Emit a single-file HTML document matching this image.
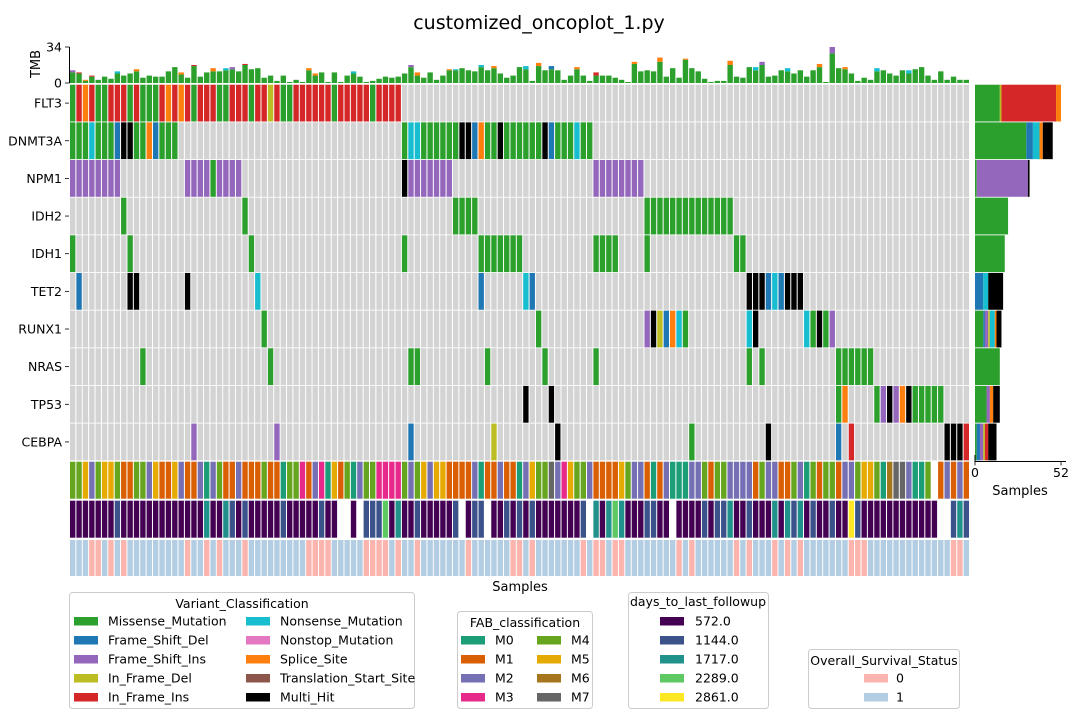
<!DOCTYPE html>
<html><head><meta charset="utf-8">
<style>
html,body{margin:0;padding:0;background:#fff;}
svg{display:block;font-family:"DejaVu Sans","Liberation Sans",sans-serif;}
text{fill:#000;}
</style></head>
<body>
<svg id="chart" width="1080" height="720" viewBox="0 0 1080 720" xmlns="http://www.w3.org/2000/svg">
<text x="539" y="29" font-size="19" text-anchor="middle">customized_oncoplot_1.py</text>
<g id="tmb"></g>
<g id="grid"></g>
<g id="side"></g>
<g id="annot"></g>
<g id="axes"></g>
<text x="520" y="591" font-size="13" text-anchor="middle">Samples</text>
<text x="1020" y="495" font-size="13" text-anchor="middle">Samples</text>
<text transform="translate(40,64) rotate(-90)" font-size="13" text-anchor="middle">TMB</text>

<g>
<rect x="69.5" y="592.5" width="345" height="116" rx="3" fill="#fff" stroke="#ccc"/>
<text x="242" y="608" font-size="12.5" text-anchor="middle">Variant_Classification</text>
</g>
<g id="legV"></g>
<g>
<rect x="457.5" y="611.5" width="135" height="97" rx="3" fill="#fff" stroke="#ccc"/>
<text x="525" y="627" font-size="12.5" text-anchor="middle">FAB_classification</text>
</g>
<g id="legF"></g>
<g>
<rect x="628.5" y="592.5" width="140" height="116" rx="3" fill="#fff" stroke="#ccc"/>
<text x="698" y="606" font-size="12.5" text-anchor="middle">days_to_last_followup</text>
</g>
<g id="legD"></g>
<g>
<rect x="808.5" y="649.5" width="151" height="59" rx="3" fill="#fff" stroke="#ccc"/>
<text x="884" y="665" font-size="12.5" text-anchor="middle">Overall_Survival_Status</text>
</g>
<g id="legS"></g>
</svg>
<script>
const genes = ["FLT3","DNMT3A","NPM1","IDH2","IDH1","TET2","RUNX1","NRAS","TP53","CEBPA"];
const mutFLT3 = [[0,"MRPRMMRRRMRMMMRPRPRMRRRMMRRRMRRDRMMRRRRRRMRRRRRMRRRR"]];
const mutDNMT3A = [[0,"MMMNMMMFXXMMPFMMM"],[52,"MNNMMMMMMXXFPMMXMMMMMMXFMMMNMM"]];
const mutNPM1 = [[0,"IIIIIIII"],[18,"IIIIMIIII"],[52,"XIIIIIII"],[82,"IIIIIIII"]];
const mutIDH2 = [[8,"M"],[27,"M"],[60,"MMMM"],[90,"MMMMMMMMMMMMMM"]];
const mutIDH1 = [[0,"M"],[9,"M"],[28,"M"],[52,"M"],[64,"MMMMMMM"],[82,"MMMM"],[90,"M"],[104,"MM"]];
const mutTET2 = [[1,"F"],[9,"XX"],[18,"X"],[29,"N"],[64,"F"],[71,"NF"],[106,"XXXFNFXXX"]];
const mutRUNX1 = [[30,"M"],[73,"M"],[90,"IXDFPNM"],[106,"NX"],[115,"NMXMI"]];
const mutNRAS = [[11,"M"],[31,"M"],[53,"MM"],[65,"M"],[74,"M"],[82,"M"],[106,"M"],[108,"M"],[120,"MMMMMM"]];
const mutTP53 = [[71,"X"],[75,"X"],[120,"MP"],[126,"MIXIPXMMMMM"]];
const mutCEBPA = [[19,"I"],[32,"I"],[53,"F"],[66,"D"],[76,"X"],[97,"M"],[109,"X"],[120,"F"],[122,"R"],[137,"XXXR"]];
const mutations = [mutFLT3,mutDNMT3A,mutNPM1,mutIDH2,mutIDH1,mutTET2,mutRUNX1,mutNRAS,mutTP53,mutCEBPA];
const variantCodes = ["M","F","I","D","R","N","S","P","T","X"];
const variantNames = ["Missense_Mutation","Frame_Shift_Del","Frame_Shift_Ins","In_Frame_Del","In_Frame_Ins","Nonsense_Mutation","Nonstop_Mutation","Splice_Site","Translation_Start_Site","Multi_Hit"];
const variantColors = ["#2ca02c","#1f77b4","#9467bd","#bcbd22","#d62728","#17becf","#e377c2","#ff7f0e","#8c564b","#000000"];
const tmbTotal = [12,10,3,7,3,6,4,11,7,9, 13,5,7,6,6,11,15,10,5,17, 6,10,14,11,14,15,11,18,13,14, 5,7,2,7,1,3,1,14,9,10,
1,10,1,7,11,6,1,2,4,6, 5,6,9,17,10,5,10,3,7,13, 13,14,12,11,17,12,16,9,5,7, 15,16,2,19,12,16,12,3,7,15,
7,2,10,7,7,5,3,1,20,11, 12,11,24,6,14,5,23,14,11,4, 1,2,2,21,6,5,15,15,20,6, 7,12,14,9,12,6,12,18,1,34,
14,15,9,2,5,3,14,12,9,7, 12,12,13,15,7,3,11,3,6,3, 3];
const tmbCaps = [[0,"I",2],[1,"R",1],[2,"P",1],[3,"R",1],[7,"N",2],[10,"P",2],[17,"P",2],[19,"R",1],[22,"P",3],[24,"N",2],[25,"I",2],[27,"R",1],[37,"P",2],[38,"P",2],[44,"N",2],[53,"I",2],[54,"P",3],[59,"P",1],[60,"N",1],[64,"N",2],[66,"P",2],[71,"N",3],[73,"P",3],[75,"F",3],[79,"P",2],[82,"R",3],[88,"P",2],[92,"P",4],[96,"P",1],[103,"P",4],[107,"N",3],[108,"I",3],[112,"N",3],[117,"P",3],[119,"I",6],[121,"P",2],[126,"N",3],[131,"N",3]];
const tmbTicks = [0,34];
const fab = [4,4,5,2,4,5,5,4,1,1, 4,4,2,5,1,1,5,2,1,1, 2,0,2,4,1,1,2,1,1,1, 4,1,1,0,4,4,3,1,2,3, 0,5,1,4,0,2,4,
4,3,3,3,3,4,2,4,5,2, 5,5,1,1,1,1,2,0,1,1, 2,1,1,0,2,5,4,4,7,2, 3,5,4,4,2,1,1,1,1,5, 4,2,2,1,0,1,2,
0,0,0,2,2,4,1,4,4,2, 2,2,2,1,4,2,2,1,1,4, 2,0,4,1,4,4,1,2,2,4, 5,5,4,0,6,7,7,2,0,0, 4,-1,1,2,1,2,1];
const fabNames = ["M0","M1","M2","M3","M4","M5","M6","M7"];
const fabColors = ["#1b9e77","#d95f02","#7570b3","#e7298a","#66a61e","#e6ab02","#a6761d","#666666"];
const days = [0,0,0,0,0,0,0,1,0,0, 0,0,0,0,0,0,0,0,0,0, 0,2,0,0,2,1,0,1,0,0, 0,0,0,1,0,0,0,0,0,1, 0,0,-1,-1,0,-1,1,
1,1,3,0,2,0,0,1,0,0, 0,0,0,1,-1,0,1,1,-1,0, 0,1,0,1,0,1,0,0,0,0, 0,0,0,1,-1,2,0,2,3,2, 0,0,0,1,1,0,0,
-1,0,0,0,0,1,0,1,1,2, 0,0,1,0,0,0,2,0,2,1, 2,0,1,0,0,1,0,0,4,1, 0,0,0,0,0,0,0,0,0,0, 0,0,-1,-1,1,2,1];
const dayNames = ["572.0","1144.0","1717.0","2289.0","2861.0"];
const dayColors = ["#440154","#3b528b","#21918c","#5ec962","#fde725"];
const survival = [1,1,1,0,0,1,0,1,0,1, 1,1,1,1,1,1,1,1,0,1, 1,0,1,0,1,1,1,0,1,1, 1,1,1,1,1,1,1,0,0,0,
0,1,1,1,1,1,0,0,0,0, 1,0,1,1,0,1,1,1,1,1, 1,1,0,1,1,1,1,1,1,0, 0,1,0,1,1,1,1,1,1,1,
0,1,0,0,1,0,0,1,1,1, 1,1,1,1,1,0,1,0,1,1, 1,1,1,1,0,1,0,1,1,1, 0,1,0,1,0,1,1,1,1,1,
1,1,0,0,0,1,1,1,1,1, 1,1,1,1,1,1,1,1,0,0, 1];
const survNames = ["0","1"];
const survColors = ["#fbb4ae","#b3cde3"];

const NS = "http://www.w3.org/2000/svg";
const N = tmbTotal.length;
const X0 = 70, X1 = 970, PITCH = (X1 - X0) / N, CW = PITCH - 1;
const xCol = i => X0 + i * PITCH;
const ROW0 = 84.7, RPITCH = 37.65, RH = 36.8;
const yRow = r => ROW0 + r * RPITCH;
const TMB_Y0 = 83, TMB_Y1 = 47, TMB_MAX = 34;
const yTmb = v => TMB_Y0 - v * (TMB_Y0 - TMB_Y1) / TMB_MAX;
const SIDE_X0 = 975, SIDE_MAX = 52, SIDE_PX = 86;
const xSide = v => SIDE_X0 + v * SIDE_PX / SIDE_MAX;
function mk(tag, attrs, parent) {
  const e = document.createElementNS(NS, tag);
  for (const k in attrs) e.setAttribute(k, attrs[k]);
  parent.appendChild(e);
  return e;
}
const colorOf = c => variantColors[variantCodes.indexOf(c)];

const gT = document.getElementById("tmb");
for (let i = 0; i < N; i++) {
  const cap = tmbCaps.find(c => c[0] === i);
  const capV = cap ? Math.min(cap[2], tmbTotal[i]) : 0;
  const base = tmbTotal[i] - capV;
  const r = mk("rect", {x: xCol(i), y: yTmb(base), width: CW, height: yTmb(0) - yTmb(base), fill: variantColors[0]}, gT);
  
  
  if (cap) {
    const c = mk("rect", {x: xCol(i), y: yTmb(tmbTotal[i]), width: CW, height: yTmb(base) - yTmb(tmbTotal[i]), fill: colorOf(cap[1])}, gT);
    
    
  }
}

const gG = document.getElementById("grid");
const gS = document.getElementById("side");
genes.forEach((g, r) => {
  const row = new Array(N).fill(null);
  mutations[r].forEach(seg => {
    for (let k = 0; k < seg[1].length; k++) row[seg[0] + k] = seg[1][k];
  });
  for (let i = 0; i < N; i++) {
    const cell = mk("rect", {x: xCol(i), y: yRow(r), width: CW, height: RH, fill: row[i] ? colorOf(row[i]) : "#d3d3d3"}, gG);
    
    
  }
  let acc = 0;
  variantCodes.forEach((code, vi) => {
    const cnt = row.filter(v => v === code).length;
    if (!cnt) return;
    const b = mk("rect", {x: xSide(acc), y: yRow(r), width: xSide(acc + cnt) - xSide(acc), height: RH, fill: variantColors[vi]}, gS);
    
    
    acc += cnt;
  });
  const lab = mk("text", {x: 62, y: yRow(r) + RH / 2 + 4.5, "font-size": 12.5, "text-anchor": "end"}, gG);
  lab.textContent = g;
  
  
  mk("line", {x1: 65, x2: 69, y1: yRow(r) + RH / 2, y2: yRow(r) + RH / 2, stroke: "#000", "stroke-width": 0.8}, gG);
});

const gA = document.getElementById("annot");
const annTops = [461.7, 500.7, 540];
for (let i = 0; i < N; i++) {
  if (fab[i] >= 0) {
    const a = mk("rect", {x: xCol(i), y: annTops[0], width: CW, height: 37, fill: fabColors[fab[i]]}, gA);
    
    
  }
  if (days[i] >= 0) {
    const d = mk("rect", {x: xCol(i), y: annTops[1], width: CW, height: 37, fill: dayColors[days[i]]}, gA);
    
    
  }
  const s = mk("rect", {x: xCol(i), y: annTops[2], width: CW, height: 36, fill: survColors[survival[i]]}, gA);
  
  
}

const gX = document.getElementById("axes");
mk("line", {x1: 69.5, x2: 69.5, y1: yTmb(TMB_MAX), y2: TMB_Y0, stroke: "#000", "stroke-width": 1}, gX);
tmbTicks.forEach(t => {
  mk("line", {x1: 65, x2: 69.5, y1: yTmb(t), y2: yTmb(t), stroke: "#000", "stroke-width": 0.8}, gX);
  const tl = mk("text", {x: 62, y: yTmb(t) + 4.5, "font-size": 12.5, "text-anchor": "end"}, gX);
  tl.textContent = t;
  
  
});
mk("line", {x1: SIDE_X0, x2: 1066, y1: 461.5, y2: 461.5, stroke: "#000", "stroke-width": 1}, gX);
mk("line", {x1: SIDE_X0, x2: SIDE_X0, y1: 455, y2: 462, stroke: "#000", "stroke-width": 1}, gX);
[0, SIDE_MAX].forEach(t => {
  mk("line", {x1: xSide(t), x2: xSide(t), y1: 461.5, y2: 465.5, stroke: "#000", "stroke-width": 0.8}, gX);
  const sl = mk("text", {x: xSide(t), y: 477, "font-size": 12.5, "text-anchor": "middle"}, gX);
  sl.textContent = t;
  
  
});

function legendEntry(parent, px, ty, tx, color, label, name) {
  const p = mk("rect", {x: px, y: ty - 4, width: 24, height: 8.5, fill: color}, parent);
  
  
  const t = mk("text", {x: tx, y: ty + 4.5, "font-size": 12.5}, parent);
  t.textContent = label;
  
  
}
const legYs = [621, 640, 659, 678, 697];
const gLV = document.getElementById("legV");
variantNames.forEach((n, i) => {
  const col = Math.floor(i / 5), row = i % 5;
  legendEntry(gLV, col ? 246 : 74, legYs[row], col ? 280 : 108, variantColors[i], n, 'variant-legend-entry');
});
const gLF = document.getElementById("legF");
fabNames.forEach((n, i) => {
  const col = Math.floor(i / 4), row = i % 4;
  legendEntry(gLF, col ? 537 : 461, legYs[row + 1], col ? 571 : 495, fabColors[i], n, 'fab-legend-entry');
});
const gLD = document.getElementById("legD");
dayNames.forEach((n, i) => legendEntry(gLD, 660, legYs[i], 695, dayColors[i], n, 'days-legend-entry'));
const gLS = document.getElementById("legS");
survNames.forEach((n, i) => legendEntry(gLS, 864, legYs[i + 3], 896, survColors[i], n, 'survival-legend-entry'));
</script>
</body></html>
